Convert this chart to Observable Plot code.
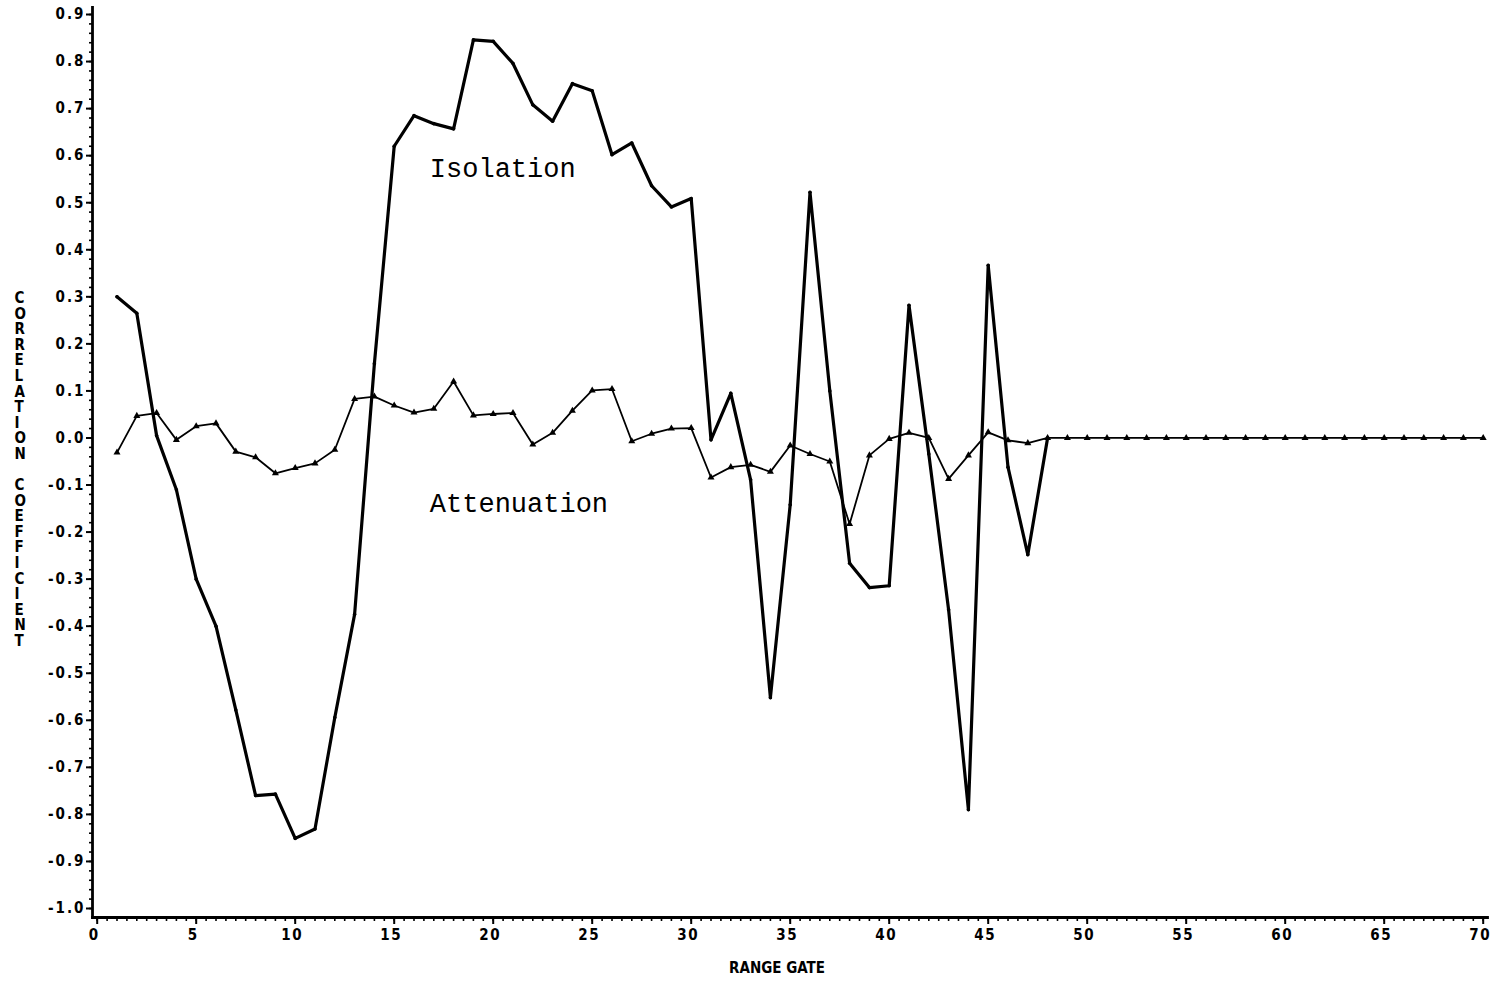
<!DOCTYPE html>
<html>
<head>
<meta charset="utf-8">
<script src="https://cdn.jsdelivr.net/npm/d3@7"></script>
<script src="https://cdn.jsdelivr.net/npm/@observablehq/plot@0.6"></script>
<style>
  html, body { margin: 0; padding: 0; background: #fff; }
  #chart svg { display: block; }
  g[aria-label="y-axis tick label"] text { letter-spacing: 2px; }
  g[aria-label="x-axis tick label"] text { letter-spacing: 1.5px; }
</style>
</head>
<body>
<div id="chart"></div>
<script>
// Range gates along the horizontal axis
const rangeGates = [
  1, 2, 3, 4, 5, 6, 7, 8, 9, 10, 11, 12, 13, 14, 15, 16, 17, 18, 19, 20,
  21, 22, 23, 24, 25, 26, 27, 28, 29, 30, 31, 32, 33, 34, 35, 36, 37, 38, 39, 40,
  41, 42, 43, 44, 45, 46, 47, 48, 49, 50, 51, 52, 53, 54, 55, 56, 57, 58, 59, 60,
  61, 62, 63, 64, 65, 66, 67, 68, 69, 70
];

// Isolation correlation coefficient, gates 1–48
const isolation = [
  0.300, 0.265, 0.005, -0.110, -0.300, -0.400, -0.578, -0.760, -0.757, -0.851,
  -0.831, -0.594, -0.375, 0.158, 0.620, 0.685, 0.668, 0.657, 0.846, 0.843,
  0.796, 0.708, 0.673, 0.753, 0.738, 0.602, 0.627, 0.536, 0.491, 0.509,
  -0.004, 0.095, -0.089, -0.552, -0.142, 0.522, 0.100, -0.266, -0.318, -0.314,
  0.282, -0.034, -0.365, -0.790, 0.367, -0.062, -0.248, 0.000
];

// Attenuation correlation coefficient, gates 1–70
const attenuation = [
  -0.031, 0.047, 0.053, -0.004, 0.025, 0.031, -0.029, -0.041, -0.075, -0.064,
  -0.054, -0.025, 0.083, 0.088, 0.069, 0.054, 0.062, 0.120, 0.048, 0.051,
  0.053, -0.014, 0.011, 0.058, 0.101, 0.104, -0.007, 0.009, 0.020, 0.021,
  -0.084, -0.062, -0.057, -0.072, -0.016, -0.034, -0.050, -0.183, -0.037, -0.002,
  0.011, 0.000, -0.087, -0.037, 0.012, -0.005, -0.011, 0.000, 0.000, 0.000,
  0.000, 0.000, 0.000, 0.000, 0.000, 0.000, 0.000, 0.000, 0.000, 0.000,
  0.000, 0.000, 0.000, 0.000, 0.000, 0.000, 0.000, 0.000, 0.000, 0.000
];

// Axis ticks
const xTicks = [0, 5, 10, 15, 20, 25, 30, 35, 40, 45, 50, 55, 60, 65, 70];
const yTicks = [-1.0, -0.9, -0.8, -0.7, -0.6, -0.5, -0.4, -0.3, -0.2, -0.1,
                0.0, 0.1, 0.2, 0.3, 0.4, 0.5, 0.6, 0.7, 0.8, 0.9];
const xMinorTicks = d3.range(0, 141).map(i => i / 2);
const yMinorTicks = d3.range(-50, 46).map(i => i / 50);

// Curve names placed beside their lines
const seriesLabels = [
  {label: "Isolation", gate: 16.8, value: 0.573},
  {label: "Attenuation", gate: 16.8, value: -0.139}
];

const xTitle = "RANGE GATE";
const yTitle = "CORRELATION COEFFICIENT";

const isoData = isolation.map((v, i) => ({gate: rangeGates[i], value: v}));
const attData = attenuation.map((v, i) => ({gate: rangeGates[i], value: v}));

const labelFont = "'DejaVu Sans Condensed', 'DejaVu Sans', sans-serif";

const chart = Plot.plot({
  width: 1493,
  height: 985,
  marginLeft: 92,
  marginRight: 6,
  marginTop: 7,
  marginBottom: 68,
  style: {fontFamily: labelFont, fontWeight: "bold", background: "#fff", color: "#000"},
  x: {domain: [0, 70], insetLeft: 4.7, insetRight: 4.3, label: null},
  y: {domain: [-1, 0.9], insetTop: 7, insetBottom: 9, label: null},
  marks: [
    Plot.frame({anchor: "left", stroke: "#000", strokeWidth: 2.8}),
    Plot.frame({anchor: "bottom", stroke: "#000", strokeWidth: 2.8}),
    // y axis: minor and major ticks, then labels
    Plot.axisY(yMinorTicks, {tickSize: 3, tickFormat: () => "", strokeWidth: 1.6, label: null}),
    Plot.axisY(yTicks, {tickSize: 6, tickPadding: 1, strokeWidth: 2, fontSize: 15,
      tickFormat: d => d.toFixed(1), label: null}),
    // x axis: minor and major ticks, then labels nudged slightly left
    Plot.axisX(xMinorTicks, {tickSize: 4, tickFormat: () => "", strokeWidth: 1.6, label: null}),
    Plot.axisX(xTicks, {tickSize: 7, tickFormat: () => "", strokeWidth: 2, label: null}),
    Plot.axisX(xTicks, {tickSize: 0, tickPadding: 12, fontSize: 15, dx: -3,
      tickFormat: d => String(d), label: null}),
    Plot.text([xTitle], {frameAnchor: "bottom", dx: -13, dy: 55, fontSize: 15,
      fontFamily: labelFont, fontWeight: "bold"}),
    Plot.text([yTitle.split("").join("\n")], {frameAnchor: "left", dx: -78, dy: 7,
      fontSize: 15, lineHeight: 1.04, fontFamily: labelFont, fontWeight: "bold"}),
    Plot.line(attData, {x: "gate", y: "value", stroke: "#000", strokeWidth: 1.8}),
    Plot.dot(attData, {x: "gate", y: "value", symbol: "triangle", r: 2.6, fill: "#000"}),
    Plot.line(isoData, {x: "gate", y: "value", stroke: "#000", strokeWidth: 3.2}),
    Plot.dot(isoData, {x: "gate", y: "value", r: 1.8, fill: "#000"}),
    Plot.text(seriesLabels, {x: "gate", y: "value", text: "label", textAnchor: "start",
      fontFamily: "'Liberation Mono', monospace", fontWeight: "normal", fontSize: 27})
  ]
});

document.getElementById("chart").appendChild(chart);
</script>
</body>
</html>
